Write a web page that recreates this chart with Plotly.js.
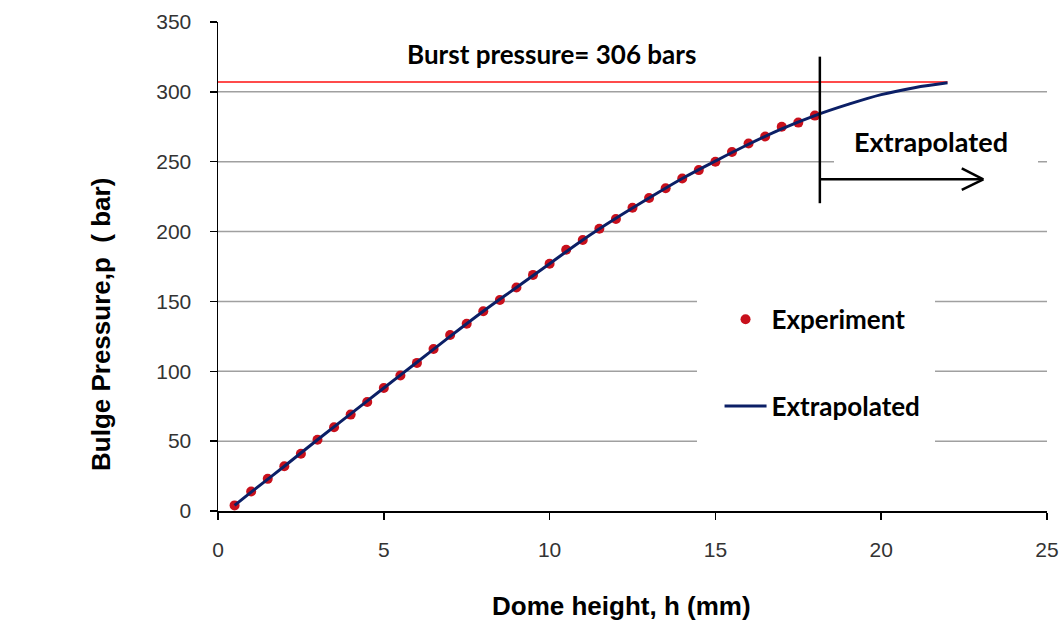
<!DOCTYPE html>
<html>
<head>
<meta charset="utf-8">
<script src="https://cdn.plot.ly/plotly-3.0.1.min.js"></script>
<style>html,body{margin:0;padding:0;background:#fff;}#chart{width:1060px;height:621px;}</style>
</head>
<body>
<div id="chart"></div>
<script>
// Experiment: dome height (mm) vs bulge pressure (bar)
var expHeight = [0.5,1,1.5,2,2.5,3,3.5,4,4.5,5,5.5,6,6.5,7,7.5,8,8.5,9,9.5,10,10.5,11,11.5,12,12.5,13,13.5,14,14.5,15,15.5,16,16.5,17,17.5,18];
var expPressure = [4,14,23,32,41,51,60,69,78,88,97,106,116,126,134,143,151,160,169,177,187,194,202,209,217,224,231,238,244,250,257,263,268,275,278,283];
// Extrapolated curve
var extHeight = [0.5,1,2,3,4,5,6,7,8,9,10,11,12,13,14,15,16,17,18,19,20,21,22];
var extPressure = [4,13.5,32,51,69.5,88,106.5,125,143,160,177,194,209.5,224,238,250.5,262.5,273.5,283,291,298,303,306.5];
// Burst pressure line
var burstHeight = [0,22];
var burstPressure = [307,307];

var xTicks = [0,5,10,15,20,25];
var yTicks = [0,50,100,150,200,250,300,350];

var boldFont = 'Lato, "Noto Sans", sans-serif';
var arial = '"Liberation Sans", Arial, sans-serif';

var traces = [
  {x: burstHeight, y: burstPressure, mode:'lines', line:{color:'#ff4b4b', width:2}, showlegend:false, hoverinfo:'skip'},
  {x: expHeight, y: expPressure, mode:'markers', name:'Experiment', legendgroup:'a',
   marker:{color:'#c8101c', size:10, line:{width:0}}},
  {x: extHeight, y: extPressure, mode:'lines', name:'Extrapolated', legendgroup:'b',
   line:{color:'#0b1f66', width:3, shape:'spline'}}
];

// horizontal gridlines (styling) drawn as shapes so the white boxes can interrupt them
var gridShapes = yTicks.filter(function(v){return v>0 && v<350;}).map(function(v){
  return {type:'line', xref:'paper', yref:'y', x0:0, x1:1, y0:v, y1:v, line:{color:'#a0a0a0', width:1.5}, layer:'below'};
});

var shapes = gridShapes.concat([
  {type:'rect', xref:'paper', yref:'paper', x0:(697-218)/829, x1:(935-218)/829, y0:(511-450)/489, y1:(511-290)/489,
   fillcolor:'#fff', line:{width:0}, layer:'below'},
  {type:'rect', xref:'paper', yref:'paper', x0:(834-218)/829, x1:(1038-218)/829, y0:(511-170)/489, y1:(511-152)/489,
   fillcolor:'#fff', line:{width:0}, layer:'below'},
  {type:'line', xref:'x', yref:'y', x0:18.15, x1:18.15, y0:220.3, y1:325.2, line:{color:'#000', width:2.5}},
  {type:'line', xref:'x', yref:'y', x0:18.15, x1:23.08, y0:237.4, y1:237.4, line:{color:'#000', width:2.5}},
  {type:'line', xref:'x', yref:'y', x0:22.43, x1:23.08, y0:245.3, y1:237.4, line:{color:'#000', width:2.5}},
  {type:'line', xref:'x', yref:'y', x0:22.43, x1:23.08, y0:229.8, y1:237.4, line:{color:'#000', width:2.5}}
]);

var layout = {
  width:1060, height:621,
  margin:{l:218, r:13, t:22, b:110},
  paper_bgcolor:'#fff', plot_bgcolor:'#fff',
  showlegend:true,
  legend:{x:0.605, y:0.44, xanchor:'left', yanchor:'top', bgcolor:'rgba(0,0,0,0)', itemwidth:42,
          font:{family:boldFont, size:26, color:'#000', weight:'bold'}, tracegroupgap:50},
  xaxis:{range:[0,25], tickvals:xTicks, ticktext:xTicks.map(String),
         showgrid:false, zeroline:false, showline:true, linecolor:'#000', linewidth:1.5,
         ticks:'outside', ticklen:7, tickcolor:'#000', tickwidth:1.5, ticklabelstandoff:12,
         tickfont:{family:arial, size:21, color:'#333'}},
  yaxis:{range:[0,350], tickvals:yTicks, ticktext:yTicks.map(String),
         showgrid:false, zeroline:false,
         showline:true, linecolor:'#000', linewidth:1.5,
         ticks:'outside', ticklen:7, tickcolor:'#000', tickwidth:1.5, ticklabelstandoff:14,
         tickfont:{family:arial, size:21, color:'#333'}},
  shapes: shapes,
  annotations:[
    {text:'Burst pressure= 306 bars', xref:'paper', yref:'paper', x:(551-218)/829, y:(511-54)/489,
     xanchor:'center', yanchor:'middle', showarrow:false,
     font:{family:boldFont, size:26, color:'#000', weight:'bold'}},
    {text:'Extrapolated', xref:'paper', yref:'paper', x:(931-218)/829, y:(511-141)/489,
     xanchor:'center', yanchor:'middle', showarrow:false,
     font:{family:boldFont, size:27, color:'#000', weight:'bold'}},
    {text:'<b>Dome height, h (mm)</b>', xref:'paper', yref:'paper', x:(621-218)/829, y:(511-606)/489,
     xanchor:'center', yanchor:'middle', showarrow:false,
     font:{family:arial, size:26, color:'#000'}},
    {text:'<b>Bulge Pressure,p  ( bar)</b>', xref:'paper', yref:'paper', x:(101-218)/829, y:(511-325)/489,
     xanchor:'center', yanchor:'middle', showarrow:false, textangle:-90,
     font:{family:arial, size:26, color:'#000'}}
  ]
};

Plotly.newPlot('chart', traces, layout, {displayModeBar:false, staticPlot:true});
</script>
</body>
</html>
